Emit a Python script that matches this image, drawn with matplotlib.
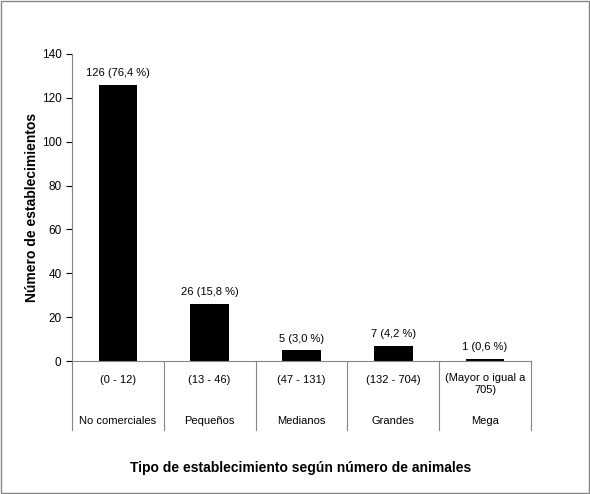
import matplotlib
matplotlib.use("Agg")
import matplotlib.pyplot as plt
from matplotlib.patches import Rectangle

categories = ["No comerciales", "Pequeños", "Medianos", "Grandes", "Mega"]
ranges = ["(0 - 12)", "(13 - 46)", "(47 - 131)", "(132 - 704)", "(Mayor o igual a\n705)"]
values = [126, 26, 5, 7, 1]
labels = ["126 (76,4 %)", "26 (15,8 %)", "5 (3,0 %)", "7 (4,2 %)", "1 (0,6 %)"]

plt.rcParams['font.family'] = ['Liberation Sans', 'DejaVu Sans']
fig = plt.figure(figsize=(5.90, 4.94), dpi=100)
ax = fig.add_axes([0.122, 0.269, 0.778, 0.622])
x = list(range(len(values)))
ax.bar(x, values, width=0.42, color='black')
for xi, v, l in zip(x, values, labels):
    ax.text(xi, v + 3, l, ha='center', va='bottom', fontsize=8)
ax.set_xlim(-0.5, len(values) - 0.5)
ax.set_ylim(0, 140)
ax.set_yticks(range(0, 141, 20))
ax.tick_params(axis='y', labelsize=8.5, direction='out', length=4)
ax.set_xticks([])
for s in ['top', 'right']:
    ax.spines[s].set_visible(False)
ax.spines['left'].set_color('#868686')
ax.spines['bottom'].set_color('#868686')
for i in range(len(values) + 1):
    ax.plot([i - 0.5, i - 0.5], [0, -0.225], transform=ax.get_xaxis_transform(),
            color='#868686', lw=0.8, clip_on=False)
for xi, r, c in zip(x, ranges, categories):
    ax.text(xi, -0.06 if '\n' not in r else -0.075, r, transform=ax.get_xaxis_transform(),
            ha='center', va='center', fontsize=8)
    ax.text(xi, -0.195, c, transform=ax.get_xaxis_transform(), ha='center', va='center', fontsize=8)
fig.text(0.054, 0.58, "Número de establecimientos", rotation=90, ha='center', va='center',
         fontsize=10, fontweight='bold')
fig.text(0.51, 0.053, "Tipo de establecimiento según número de animales", ha='center', va='center',
         fontsize=10, fontweight='bold')
fig.patches.append(Rectangle((0.002, 0.002), 0.996, 0.996, transform=fig.transFigure,
                             fill=False, edgecolor='#868686', lw=1))
fig.savefig("out.png", dpi=100)
